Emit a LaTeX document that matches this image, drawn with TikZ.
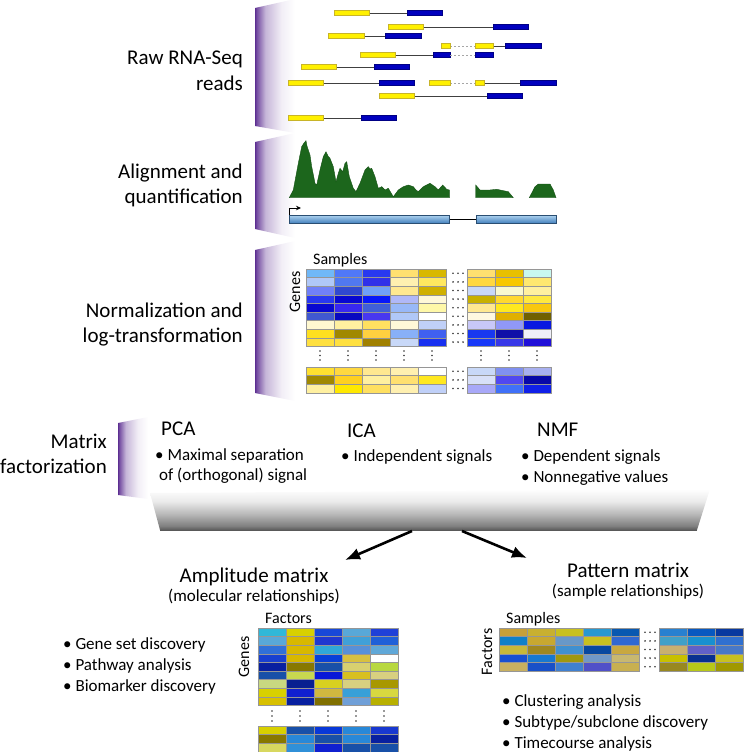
\documentclass[tikz,border=0pt]{standalone}
\usepackage{fontspec}
\setmainfont{Carlito}
\usepackage{xcolor}
\usepackage{tikz}
\usetikzlibrary{arrows.meta}
\definecolor{brpurple}{RGB}{92,45,145}
\definecolor{readyellow}{RGB}{255,240,0}
\definecolor{readyelline}{RGB}{200,180,40}
\definecolor{readblue}{RGB}{0,0,190}
\definecolor{covgreen}{RGB}{28,102,28}
\definecolor{exonlight}{RGB}{176,212,240}
\definecolor{exondark}{RGB}{70,130,190}
\definecolor{cellline}{RGB}{150,150,150}
\pgfdeclarehorizontalshading{stagefade}{100bp}{color(0bp)=(brpurple); color(25bp)=(brpurple); color(27bp)=(brpurple!85!white); color(38bp)=(brpurple!35!white); color(58bp)=(brpurple!8!white); color(75bp)=(white); color(100bp)=(white)}
\pgfdeclareverticalshading{platefade}{100bp}{color(0bp)=(black!65); color(25bp)=(black!65); color(30bp)=(black!50); color(45bp)=(black!27); color(60bp)=(black!8); color(75bp)=(white); color(100bp)=(white)}

\newcommand{\readpair}[5]{%
  \draw[readline] (#3,#1) -- (#4,#1);
  \filldraw[ybar] (#2,#1-2.3) rectangle (#3,#1+2.3);
  \filldraw[bbar] (#4,#1-2.3) rectangle (#5,#1+2.3);
}
\newcommand{\heatblock}[3]{%
  \foreach \hrow [count=\r from 0] in {#3} {
    \foreach \hc [count=\k from 0] in \hrow {
      \definecolor{cellc}{HTML}{\hc}
      \filldraw[cell, fill=cellc] ({#1+\k*28},{#2+\r*8.6}) rectangle +(28,8.6);
    }
  }
}

\begin{document}
\begin{tikzpicture}[x=1pt,y=-1pt,
    stagelbl/.style={font=\fontsize{21}{25}\selectfont, anchor=base east, inner sep=0pt},
    methodlbl/.style={font=\fontsize{21}{25}\selectfont, anchor=base west, inner sep=0pt},
    titlelbl/.style={font=\fontsize{21}{25}\selectfont, anchor=base, inner sep=0pt},
    sublbl/.style={font=\fontsize{17}{21}\selectfont, anchor=base, inner sep=0pt},
    bulletlbl/.style={font=\fontsize{17}{21}\selectfont, anchor=base west, inner sep=0pt},
    axislbl/.style={font=\fontsize{16}{19}\selectfont, inner sep=0pt},
    cell/.style={draw=cellline, line width=0.5pt},
    ybar/.style={fill=readyellow, draw=readyelline, line width=0.6pt},
    bbar/.style={fill=readblue, draw=readblue!70!black, line width=0.6pt},
    readline/.style={draw=black!75, line width=0.8pt},
    splice/.style={draw=black!35, dash pattern=on 2pt off 2pt, line width=0.7pt},
    bigarrow/.style={line width=2.6pt, -{Latex[length=15pt,width=12pt]}},
    dotsym/.style={fill=black!80}]
  \useasboundingbox (0,0) rectangle (744,752);

  % stage brackets
  \shade[shading=stagefade] (255,8) -- (295,-1) -- (295,133) -- (255,126) -- cycle;
  \shade[shading=stagefade] (255,142) -- (295,133) -- (295,238) -- (255,229) -- cycle;
  \shade[shading=stagefade] (255,250) -- (295,241) -- (295,401) -- (255,393) -- cycle;
  \shade[shading=stagefade] (118,423) -- (148,417) -- (148,499) -- (118,495) -- cycle;

  \node[stagelbl] (rawA) at (243,65) {Raw RNA-Seq};
  \node[stagelbl] (rawB) at (243,90) {reads};
  \node[stagelbl] (alnA) at (243,178) {Alignment and};
  \node[stagelbl] (alnB) at (243,203) {quantification};
  \node[stagelbl] (nrmA) at (243,317) {Normalization and};
  \node[stagelbl] (nrmB) at (243,342) {log-transformation};
  \node[stagelbl] (mfA) at (107,448) {Matrix};
  \node[stagelbl] (mfB) at (107,473) {factorization};

  % reads
  \readpair{13}{334}{369}{407}{442}
  \readpair{27}{388}{423}{493}{528}
  \readpair{36}{328}{364}{385}{421}
  \draw[splice] (450,46) -- (475,46);
  \draw[readline] (493,46) -- (505,46);
  \filldraw[ybar] (441,43.7) rectangle (450,48.3);
  \filldraw[ybar] (475,43.7) rectangle (493,48.3);
  \filldraw[bbar] (505,43.7) rectangle (541,48.3);
  \readpair{55}{360}{395}{433}{450}
  \draw[splice] (450,55) -- (475,55);
  \filldraw[bbar] (475,52.7) rectangle (493,57.3);
  \readpair{67}{301}{336}{374}{409}
  \readpair{83}{288}{323}{379}{414}
  \draw[splice] (450,83) -- (475,83);
  \draw[readline] (484,83) -- (520,83);
  \filldraw[ybar] (429,80.7) rectangle (450,85.3);
  \filldraw[ybar] (475,80.7) rectangle (484,85.3);
  \filldraw[bbar] (520,80.7) rectangle (556,85.3);
  \readpair{96}{379}{414}{487}{522}
  \readpair{118}{288}{323}{361}{396}

  % coverage
  \filldraw[fill=covgreen, draw=covgreen!80!black, line width=0.4pt]
    (289.3,197.7) -- (293.3,190) -- (298.3,163.3) -- (301.7,146.7) -- (304,143) -- (306,140.7)
    -- (307,146) -- (308.3,150) -- (310,155) -- (311.7,166.7) -- (315,183.3) -- (316.7,185) -- (320,170)
    -- (323.3,156.7) -- (326,151.7) -- (328,156) -- (330,158.3) -- (333.3,166.7) -- (336,181.7)
    -- (338.3,173.3) -- (340,168.3) -- (342.7,171.7) -- (345,163.3) -- (346.7,161.7)
    -- (349.3,176.7) -- (353.3,188.3) -- (356,191.7) -- (360,183.3) -- (365,170)
    -- (368.3,166.7) -- (370,169) -- (371.7,168.3) -- (375,176.7) -- (378.3,188.3) -- (381.7,186.7)
    -- (385,190) -- (388.3,188.3) -- (393.3,196.7) -- (398.3,190) -- (403.3,186.7)
    -- (408.3,185) -- (413.3,186.7) -- (416,190) -- (418.3,191.7) -- (423.3,186.7) -- (430,183.3)
    -- (435,186.7) -- (438.3,190) -- (442.7,185) -- (446.7,189.3) -- (449.3,190)
    -- (449.3,197.7) -- cycle;
  \filldraw[fill=covgreen, draw=covgreen!80!black, line width=0.4pt]
    (475.7,197.7) -- (475.7,185) -- (480,190) -- (490,190) -- (496.7,189.3)
    -- (508.3,191.7) -- (513.3,197.7) -- cycle;
  \filldraw[fill=covgreen, draw=covgreen!80!black, line width=0.4pt]
    (529.3,197.7) -- (535,186.7) -- (538.3,184) -- (550,184) -- (553.3,190)
    -- (556,197.7) -- cycle;

  % gene model
  \draw[line width=0.8pt] (449,219) -- (476,219);
  \shade[top color=exonlight, bottom color=exondark, draw=exondark!60!black, line width=0.5pt]
    (289,215) rectangle (449,223);
  \shade[top color=exonlight, bottom color=exondark, draw=exondark!60!black, line width=0.5pt]
    (476,215) rectangle (556,223);
  \draw[line width=0.8pt, -{Stealth[length=5pt,width=4.5pt]}] (289,215) |- (301,208);

  % normalized matrix
  \node[axislbl, anchor=base west] (smpA) at (313,264) {Samples};
  \node[axislbl, rotate=90] (genA) at (295,292) {Genes};
  \heatblock{306}{269}{{70B8F8,5078F8,2838F0,FFE070,D8B800},{B0C8F8,5078F0,3030E8,FFF0B0,FFE860},
    {7080F8,3048D0,70A0F8,FFE890,D0B000},{2838F0,0808D0,0818F8,B0B8F8,FFF8D8},
    {0808D0,3828F0,4060D8,98B8F8,FFF8A8},{4058D0,0808C0,4838F0,B0C8F8,FFFFFF},
    {FFF8D0,FFF0A0,FFE060,FFF8D8,C0D0F8},{FFE020,A08800,FFD040,88B0F8,4060F0},
    {FFE040,FFE040,A08000,C8D8F8,1830F0}}
  \heatblock{467}{269}{{FFE070,E8C000,C8F8F0},{FFD840,F8C800,FFE870},{C8D8F8,F8F8D0,FFF0A0},
    {C8B000,FFD830,FFE840},{FFE890,FFE820,F8C810},{FFF8E0,E0B000,706000},
    {C8C8F8,9098F8,0818E0},{1838F0,1010A8,F0F0F8},{1838F8,3838E8,2010D8}}
  \heatblock{306}{367}{{FFE030,FFD840,FFE890,FFF0B0,FFFFFF},{A08800,FFD020,FFF0A0,FFE070,FFE820},
    {FFF0A0,FFE800,FFE060,FFF0B0,C0D0F8}}
  \heatblock{467}{367}{{C8D8F8,8090F0,A8B0F0},{D8E0F8,5048F0,0808A8},{A8A8F8,4070F8,1020E8}}
  \foreach \x in {320,348,376,404,432,481,509,537}
    \foreach \y in {351,355.5,360}
      \fill[dotsym] (\x,\y) circle (0.9);
  \foreach \y in {0,...,8}
    \foreach \x in {453,458,463}
      \fill[dotsym] (\x,{273.3+\y*8.6}) circle (0.9);
  \foreach \y in {0,1,2}
    \foreach \x in {453,458,463}
      \fill[dotsym] (\x,{371.3+\y*8.6}) circle (0.9);

  % factorization methods
  \node[methodlbl] (pca) at (161,435) {PCA};
  \node[bulletlbl] (pcaA) at (155,460) {• Maximal separation};
  \node[bulletlbl] (pcaB) at (159,480) {of (orthogonal) signal};
  \node[methodlbl] (ica) at (347,437) {ICA};
  \node[bulletlbl] (icaA) at (341,461) {• Independent signals};
  \node[methodlbl] (nmf) at (537,436) {NMF};
  \node[bulletlbl] (nmfA) at (521,461) {• Dependent signals};
  \node[bulletlbl] (nmfB) at (521,482) {• Nonnegative values};

  % plate
  \shade[shading=platefade] (150,493) -- (710,489) -- (697,530) -- (160,530) -- cycle;
  \draw[black!65, line width=0.8pt] (160,530) -- (697,530);

  \coordinate (fanL) at (412,531);
  \coordinate (fanR) at (462,531);
  \coordinate (ampTip) at (345,560);
  \coordinate (patTip) at (527,558);
  \draw[bigarrow] (fanL) -- (ampTip);
  \draw[bigarrow] (fanR) -- (patTip);

  % amplitude matrix
  \node[titlelbl] (ampT) at (254,582) {Amplitude matrix};
  \node[sublbl] (ampS) at (254,601) {(molecular relationships)};
  \node[axislbl, anchor=base west] (facA) at (265,623) {Factors};
  \node[axislbl, rotate=90] (genB) at (244,657) {Genes};
  \heatblock{258}{628}{{30B8D8,D8D000,1848D8,58A8D8,2040D8},{58A8D8,D8B800,2038D0,40A0D8,2060D8},
    {3070D8,D8B800,30A8D8,5890D8,60A8D8},{1840D0,D8B800,0840D8,D8C040,FFFFFF},
    {0820A0,887800,1850A8,D8D070,B8D840},{1850A8,C8D850,0818D8,D8C020,D8D080},
    {C8D880,082090,D8D020,D8D080,A89800},{D8D000,1020D0,D0B840,38A0D8,D8D840},
    {D8C000,0820A0,807000,70A0D8,B8B000}}
  \heatblock{258}{726}{{D8D000,1850A8,0838D8,2888D8,1838D0},{887800,2888D8,1850A8,2888D8,0820A0},
    {D8D860,3090D8,1020D0,1850A8,1850A8}}
  \foreach \x in {272,300,328,356,384}
    \foreach \y in {711,716,721}
      \fill[dotsym] (\x,\y) circle (0.9);
  \node[bulletlbl] (useA) at (63,649) {• Gene set discovery};
  \node[bulletlbl] (useB) at (63,670) {• Pathway analysis};
  \node[bulletlbl] (useC) at (63,691) {• Biomarker discovery};

  % pattern matrix
  \node[titlelbl] (patT) at (628,577) {Pattern matrix};
  \node[sublbl] (patS) at (628,596) {(sample relationships)};
  \node[axislbl, anchor=base west] (smpB) at (506,623) {Samples};
  \node[axislbl, rotate=90] (facB) at (487,652) {Factors};
  \heatblock{499}{628}{{C8A038,C8B030,C8C020,2898D0,0858B0},{1080C8,C8A830,6898C8,C8C020,3068D0},
    {C8B838,A08820,4090D0,0848A0,C8A840},{1850D0,1878D0,A09810,7098C8,C8B870},
    {C8B060,1850C8,4080D0,5050C8,C8B050}}
  \heatblock{659}{628}{{2880D0,0858C0,0838A0},{40A0C8,1890D0,3070D0},{C8B070,6060C8,4878C8},
    {C8C000,083090,C8C020},{988820,B8C818,A09800}}
  \foreach \y in {0,...,4}
    \foreach \x in {645,650,655}
      \fill[dotsym] (\x,{632.3+\y*8.6}) circle (0.9);
  \node[bulletlbl] (useD) at (502,706) {• Clustering analysis};
  \node[bulletlbl] (useE) at (502,727) {• Subtype/subclone discovery};
  \node[bulletlbl] (useF) at (502,748) {• Timecourse analysis};
\end{tikzpicture}
\end{document}
